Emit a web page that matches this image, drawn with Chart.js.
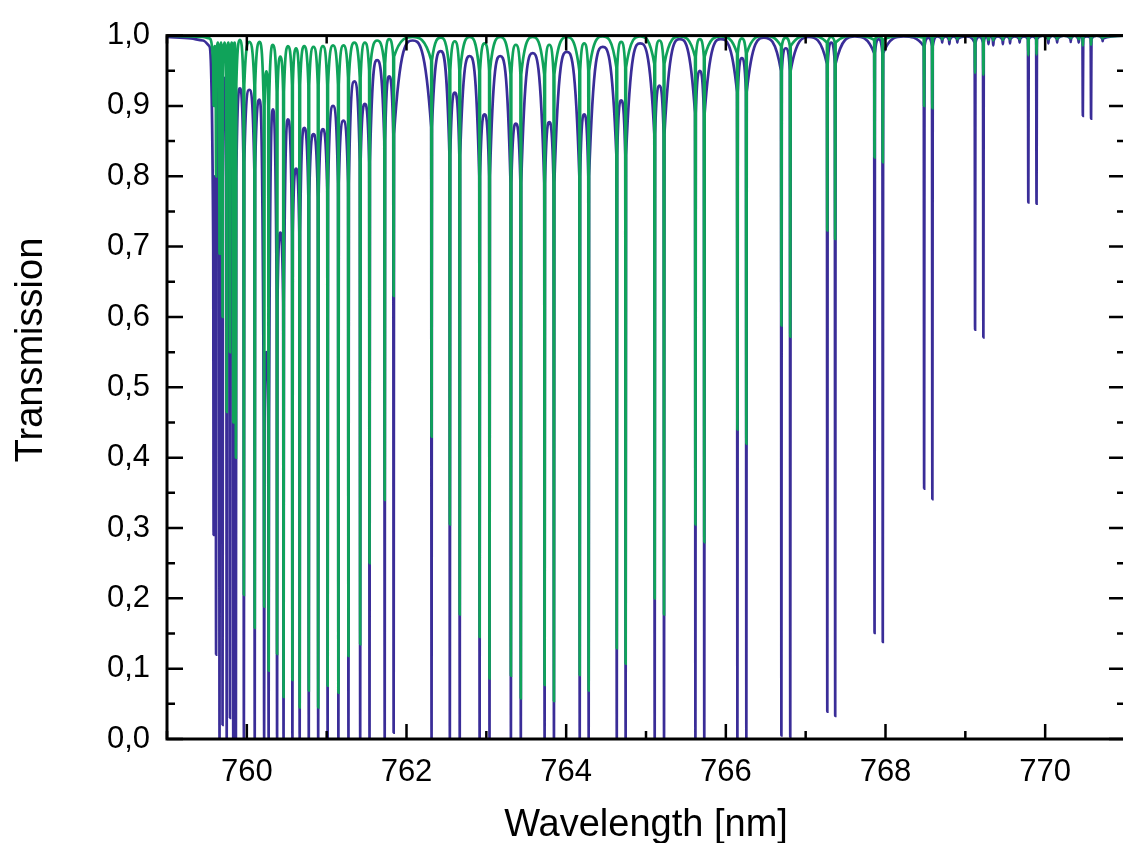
<!DOCTYPE html>
<html>
<head>
<meta charset="utf-8">
<script src="https://cdn.jsdelivr.net/npm/chart.js@4.4.1/dist/chart.umd.min.js"></script>
<style>
  html, body { margin: 0; padding: 0; background: #fff; overflow: hidden; }
  #wrap { width: 1140px; height: 843px; }
</style>
</head>
<body>
<div id="wrap"><canvas id="spectrumChart" width="1140" height="843"></canvas></div>
<script>
// wavelength range of the plot (nm)
const xMin = 759;
const xMax = 771;

// slow wing in front of the band head
const leadNm    = [759.0, 759.3, 759.45, 759.53];
const leadBlue  = [0.998, 0.996, 0.993, 0.985];
const leadGreen = [1.0, 0.999, 0.998, 0.996];

// absorption line centres (nm)
const lineNm = [
  759.584, 759.615, 759.658, 759.696, 759.748, 759.789, 759.830, 759.863, 759.963, 760.099,
  760.217, 760.273, 760.379, 760.460, 760.571, 760.662, 760.776, 760.894, 761.012, 761.147,
  761.273, 761.420, 761.537, 761.727, 761.839,
  762.314, 762.543, 762.667, 762.916, 763.040, 763.308, 763.432, 763.730, 763.847, 764.170,
  764.282, 764.634, 764.745, 765.109, 765.226, 765.619, 765.730, 766.145, 766.257, 766.696,
  766.807, 767.271, 767.370, 767.863, 767.966, 768.484, 768.587, 768.71, 768.80, 768.90,
  769.122, 769.226, 769.29, 769.35, 769.47, 769.56, 769.68, 769.789, 769.892, 770.04,
  770.15, 770.32, 770.42, 770.472, 770.575, 770.72
];

// transmission at the line centre
const blueMin = [
  0.29, 0.12, 0.0, 0.02, 0.0, 0.03, 0.0, 0.0, 0.0, 0.0,
  0.0, 0.0, 0.0, 0.0, 0.0, 0.0, 0.0, 0.0, 0.0, 0.0,
  0.0, 0.0, 0.0, 0.0, 0.009,
  0.0, 0.0, 0.0, 0.0, 0.0, 0.0, 0.0, 0.0, 0.0, 0.0,
  0.0, 0.0, 0.0, 0.0, 0.0, 0.0, 0.0, 0.0, 0.0, 0.005,
  0.003, 0.039, 0.033, 0.151, 0.138, 0.356, 0.341, 0.990, 0.988, 0.990,
  0.582, 0.571, 0.988, 0.986, 0.988, 0.989, 0.990, 0.763, 0.761, 0.989,
  0.990, 0.991, 0.990, 0.886, 0.882, 0.992
];
const greenMin = [
  0.90, 0.80, 0.69, 0.60, 0.465, 0.55, 0.45, 0.40, 0.205, 0.158,
  0.188, 0.097, 0.121, 0.06, 0.084, 0.045, 0.069, 0.045, 0.076, 0.066,
  0.118, 0.135, 0.25, 0.34, 0.63,
  0.43, 0.305, 0.177, 0.145, 0.086, 0.09, 0.058, 0.077, 0.054, 0.091,
  0.069, 0.129, 0.107, 0.20, 0.177, 0.305, 0.28, 0.44, 0.42, 0.588,
  0.572, 0.723, 0.711, 0.827, 0.820, 0.900, 0.897, 0.995, 0.994, 0.995,
  0.947, 0.944, 0.994, 0.993, 0.994, 0.995, 0.995, 0.972, 0.973, 0.995,
  0.995, 0.996, 0.995, 0.986, 0.987, 0.996
];

// level where the arch next to a line turns into the narrow spike
const blueFoot = [
  0.70, 0.72, 0.78, 0.80, 0.80, 0.79, 0.78, 0.80, 0.82, 0.81,
  0.45, 0.45, 0.62, 0.62, 0.72, 0.72, 0.77, 0.77, 0.78, 0.79,
  0.79, 0.82, 0.82, 0.85, 0.86,
  0.87, 0.83, 0.83, 0.80, 0.80, 0.79, 0.79, 0.79, 0.79, 0.80,
  0.80, 0.83, 0.83, 0.86, 0.86, 0.89, 0.89, 0.92, 0.92, 0.95,
  0.95, 0.96, 0.96, 0.975, 0.975, 0.985, 0.985, 0.995, 0.994, 0.995,
  0.99, 0.99, 0.994, 0.993, 0.994, 0.995, 0.995, 0.995, 0.995, 0.995,
  0.995, 0.996, 0.995, 0.996, 0.996, 0.996
];
const greenFoot = [
  0.96, 0.95, 0.94, 0.94, 0.93, 0.94, 0.93, 0.93, 0.93, 0.93,
  0.90, 0.90, 0.92, 0.92, 0.93, 0.93, 0.93, 0.93, 0.93, 0.93,
  0.94, 0.94, 0.95, 0.96, 0.97,
  0.965, 0.95, 0.95, 0.95, 0.95, 0.945, 0.945, 0.945, 0.945, 0.95,
  0.95, 0.955, 0.955, 0.96, 0.96, 0.97, 0.97, 0.975, 0.975, 0.985,
  0.985, 0.99, 0.99, 0.994, 0.994, 0.997, 0.997, 0.998, 0.998, 0.998,
  0.998, 0.998, 0.998, 0.998, 0.998, 0.998, 0.998, 0.999, 0.999, 0.998,
  0.998, 0.998, 0.998, 0.999, 0.999, 0.998
];

// highest transmission between a line and the next one
const bluePeak = [
  0.80, 0.93, 0.90, 0.94, 0.91, 0.90, 0.89, 0.925, 0.923, 0.909,
  0.55, 0.895, 0.72, 0.881, 0.811, 0.869, 0.86, 0.867, 0.90, 0.879,
  0.935, 0.903, 0.965, 0.942, 0.993,
  0.978, 0.919, 0.971, 0.888, 0.971, 0.875, 0.975, 0.877, 0.977, 0.888,
  0.984, 0.908, 0.989, 0.929, 0.995, 0.950, 0.995, 0.968, 0.997, 0.982,
  0.998, 0.990, 0.999, 0.995, 0.999, 0.997, 0.999, 0.999, 0.999, 0.999,
  0.998, 0.998, 0.999, 0.999, 0.999, 0.999, 0.999, 0.999, 1.0, 1.0,
  1.0, 1.0, 0.999, 0.999, 1.0, 1.0
];
const greenPeak = [
  0.985, 0.99, 0.99, 0.99, 0.99, 0.99, 0.99, 0.994, 0.991, 0.991,
  0.949, 0.987, 0.970, 0.985, 0.982, 0.985, 0.984, 0.985, 0.986, 0.986,
  0.99, 0.99, 0.993, 0.995, 0.998,
  0.997, 0.992, 0.998, 0.989, 0.998, 0.987, 0.998, 0.987, 0.998, 0.989,
  0.999, 0.991, 0.999, 0.993, 0.999, 0.995, 0.999, 0.996, 1.0, 0.997,
  1.0, 0.998, 1.0, 0.999, 1.0, 1.0, 1.0, 1.0, 1.0, 1.0,
  1.0, 1.0, 1.0, 1.0, 1.0, 1.0, 1.0, 1.0, 1.0, 1.0,
  1.0, 1.0, 1.0, 1.0, 1.0, 1.0
];

const spikeHalfWidth = 0.005; // nm

function buildSeries(lead, minima, feet, peaks) {
  const pts = leadNm.map((nm, i) => ({ x: nm, y: lead[i] }));
  lineNm.forEach((c, i) => {
    pts.push({ x: c - spikeHalfWidth, y: feet[i] });
    pts.push({ x: c, y: minima[i] });
    pts.push({ x: c + spikeHalfWidth, y: feet[i] });
    const peakX = i + 1 < lineNm.length ? (c + lineNm[i + 1]) / 2 : xMax;
    pts.push({ x: peakX, y: peaks[i] });
  });
  return pts;
}

const fontFamily = '"Liberation Sans", Arial, sans-serif';

// inward ticks on all four sides, the closed frame and the y title
const frameTicks = {
  id: 'frameTicks',
  afterDatasetsDraw(chart) {
    const { ctx, chartArea: a, scales } = chart;
    ctx.save();
    ctx.strokeStyle = '#000';
    ctx.lineWidth = 2.5;
    ctx.beginPath();
    scales.x.ticks.forEach(t => {
      const px = scales.x.getPixelForValue(t.value);
      const len = t.label !== '' ? 15 : 8;
      ctx.moveTo(px, a.bottom); ctx.lineTo(px, a.bottom - len);
      ctx.moveTo(px, a.top); ctx.lineTo(px, a.top + len);
    });
    scales.y.ticks.forEach(t => {
      const py = scales.y.getPixelForValue(t.value);
      const len = t.label !== '' ? 16 : 8;
      ctx.moveTo(a.left, py); ctx.lineTo(a.left + len, py);
      ctx.moveTo(a.right, py); ctx.lineTo(a.right - len, py);
    });
    ctx.stroke();
    ctx.lineWidth = 3;
    ctx.strokeRect(a.left, a.top, a.right - a.left, a.bottom - a.top);

    ctx.translate(32, 350);
    ctx.rotate(-Math.PI / 2);
    ctx.fillStyle = '#000';
    ctx.font = '38px ' + fontFamily;
    ctx.textAlign = 'center';
    ctx.textBaseline = 'middle';
    ctx.fillText('Transmission', 0, 0);
    ctx.restore();
  }
};

new Chart(document.getElementById('spectrumChart').getContext('2d'), {
  type: 'line',
  data: {
    datasets: [{
      label: 'green',
      data: buildSeries(leadGreen, greenMin, greenFoot, greenPeak),
      borderColor: '#10a35a',
      borderWidth: 2.7,
      pointRadius: 0,
      cubicInterpolationMode: 'monotone',
      order: 0
    }, {
      label: 'blue',
      data: buildSeries(leadBlue, blueMin, blueFoot, bluePeak),
      borderColor: '#3a2d98',
      borderWidth: 2.7,
      pointRadius: 0,
      cubicInterpolationMode: 'monotone',
      order: 1
    }]
  },
  options: {
    responsive: false,
    animation: false,
    devicePixelRatio: 1,
    layout: { padding: { top: 26, right: 8, left: 0, bottom: 0 } },
    plugins: { legend: { display: false }, tooltip: { enabled: false } },
    scales: {
      x: {
        type: 'linear',
        min: xMin,
        max: xMax,
        grid: { display: false, drawTicks: false },
        border: { display: false },
        ticks: {
          stepSize: 1,
          autoSkip: false,
          maxRotation: 0,
          padding: 15,
          color: '#000',
          font: { family: fontFamily, size: 31 },
          callback: v => (v % 2 === 0 ? String(v) : '')
        },
        title: {
          display: true,
          text: 'Wavelength [nm]',
          color: '#000',
          font: { family: fontFamily, size: 38, lineHeight: 1 },
          padding: { top: 0, bottom: -2 }
        },
        afterFit: s => { s.height = 104; }
      },
      y: {
        min: 0,
        max: 1,
        grid: { display: false, drawTicks: false },
        border: { display: false },
        ticks: {
          stepSize: 0.05,
          autoSkip: false,
          padding: 17,
          color: '#000',
          font: { family: fontFamily, size: 31 },
          callback: v => (Math.round(v * 20) % 2 === 0 ? v.toFixed(1).replace('.', ',') : '')
        },
        afterFit: s => { s.width = 167; }
      }
    }
  },
  plugins: [frameTicks]
});
</script>
</body>
</html>
